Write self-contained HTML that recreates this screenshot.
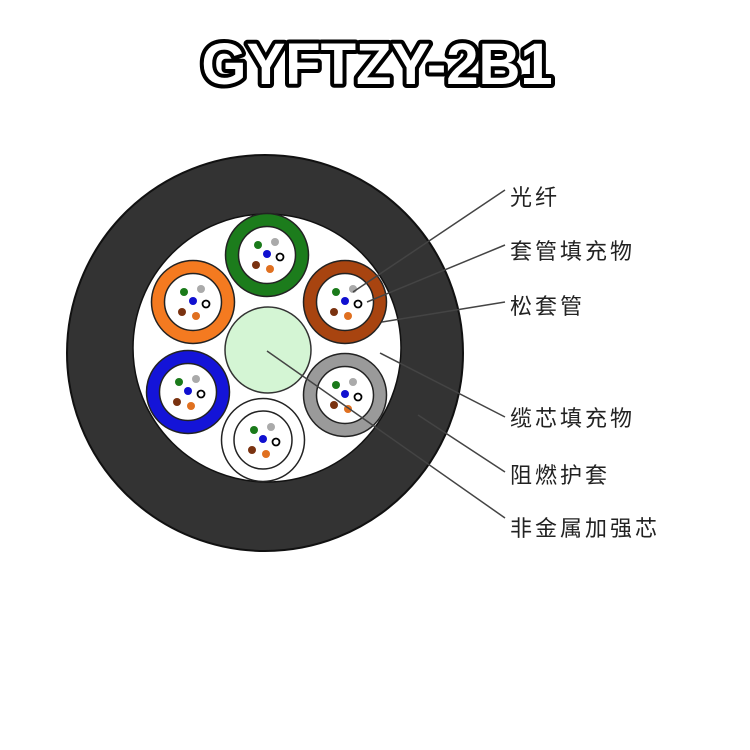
<!DOCTYPE html>
<html><head><meta charset="utf-8"><style>
html,body{margin:0;padding:0;background:#fff;}
svg{display:block;}
.lb{font-family:"Liberation Sans","Noto Sans CJK SC",sans-serif;font-size:22px;fill:#222;letter-spacing:3px;}
</style></head><body>
<svg width="750" height="750" viewBox="0 0 750 750" xmlns="http://www.w3.org/2000/svg">
<rect width="750" height="750" fill="#fff"/>
<text x="377" y="84" text-anchor="middle" font-family="Liberation Sans, sans-serif" font-weight="bold" font-size="58" fill="#fff" stroke="#000" stroke-width="8" paint-order="stroke" stroke-linejoin="round">GYFTZY-2B1</text>
<circle cx="265" cy="353" r="198" fill="#333" stroke="#111" stroke-width="2"/>
<circle cx="267" cy="348" r="134" fill="#fff" stroke="#111" stroke-width="1.5"/>
<circle cx="268" cy="350" r="43" fill="#d4f5d4" stroke="#333" stroke-width="1.5"/>
<defs>
<g id="f">
<circle cx="-9" cy="-10" r="4" fill="#1a7a1a"/>
<circle cx="8" cy="-13" r="4" fill="#aaa"/>
<circle cx="0" cy="-1" r="4" fill="#1010d0"/>
<circle cx="13" cy="2" r="3.5" fill="#fff" stroke="#000" stroke-width="1.8"/>
<circle cx="-11" cy="10" r="4" fill="#7a3210"/>
<circle cx="3" cy="14" r="4" fill="#e07020"/>
</g>
</defs>
<g stroke="#222" stroke-width="1.5">
<circle cx="267" cy="255" r="35" fill="none" stroke="#1c7c1c" stroke-width="13"/>
<circle cx="193" cy="302" r="35" fill="none" stroke="#f47a20" stroke-width="13"/>
<circle cx="345" cy="302" r="35" fill="none" stroke="#a84410" stroke-width="13"/>
<circle cx="188" cy="392" r="35" fill="none" stroke="#1414d8" stroke-width="13"/>
<circle cx="345" cy="395" r="35" fill="none" stroke="#9a9a9a" stroke-width="13"/>
</g>
<g fill="none" stroke="#222" stroke-width="1.5">
<circle cx="267" cy="255" r="41.5"/><circle cx="267" cy="255" r="28.5"/>
<circle cx="193" cy="302" r="41.5"/><circle cx="193" cy="302" r="28.5"/>
<circle cx="345" cy="302" r="41.5"/><circle cx="345" cy="302" r="28.5"/>
<circle cx="188" cy="392" r="41.5"/><circle cx="188" cy="392" r="28.5"/>
<circle cx="345" cy="395" r="41.5"/><circle cx="345" cy="395" r="28.5"/>
<circle cx="263" cy="440" r="41.5" fill="#fff"/><circle cx="263" cy="440" r="29"/>
</g>
<use href="#f" x="267" y="255"/>
<use href="#f" x="193" y="302"/>
<use href="#f" x="345" y="302"/>
<use href="#f" x="188" y="392"/>
<use href="#f" x="345" y="395"/>
<use href="#f" x="263" y="440"/>
<g stroke="#444" stroke-width="1.5">
<line x1="353" y1="292" x2="505" y2="190"/>
<line x1="367" y1="302" x2="505" y2="245"/>
<line x1="382" y1="322" x2="505" y2="302"/>
<line x1="380" y1="353" x2="505" y2="417"/>
<line x1="418" y1="415" x2="505" y2="472"/>
<line x1="267" y1="351" x2="505" y2="518"/>
</g>
<text class="lb" x="510" y="205">光纤</text>
<text class="lb" x="510" y="259">套管填充物</text>
<text class="lb" x="510" y="314">松套管</text>
<text class="lb" x="510" y="426">缆芯填充物</text>
<text class="lb" x="510" y="483">阻燃护套</text>
<text class="lb" x="510" y="536">非金属加强芯</text>
</svg>
</body></html>
